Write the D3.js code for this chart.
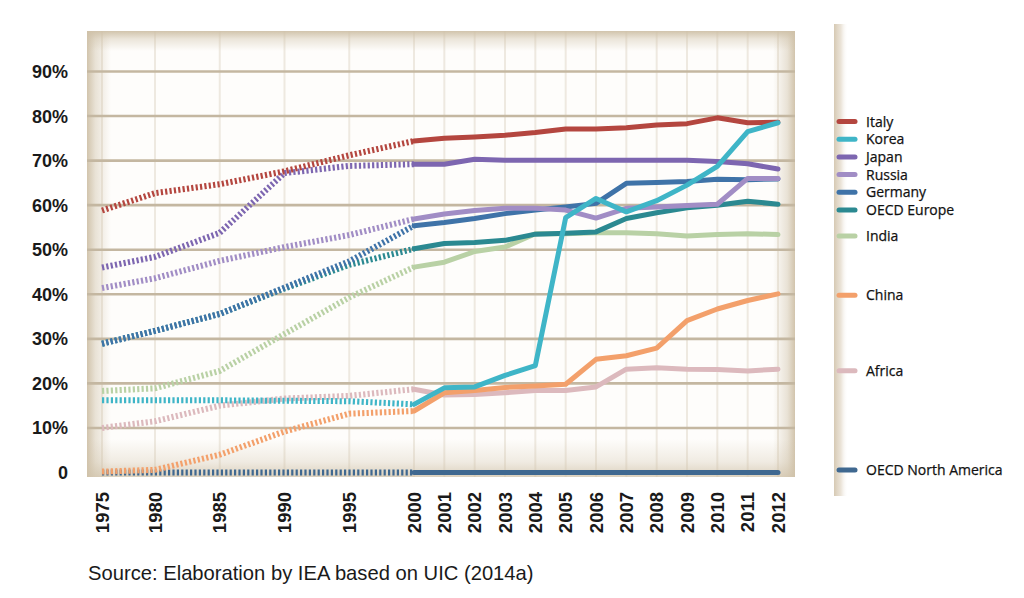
<!DOCTYPE html>
<html><head><meta charset="utf-8">
<script src="https://cdn.jsdelivr.net/npm/d3@7"></script>
<style>
html,body{margin:0;padding:0;background:#fff;}
svg{display:block;}
</style></head>
<body>
<svg id="chart" width="1024" height="598"></svg>
<script>
// ---------- data ----------
const years = [1975,1980,1985,1990,1995,2000,2001,2002,2003,2004,2005,2006,2007,2008,2009,2010,2011,2012];
const yTicks = [0,10,20,30,40,50,60,70,80,90];
const yTickLabels = ["0","10%","20%","30%","40%","50%","60%","70%","80%","90%"];
const seriesNames = ["Italy","Korea","Japan","Russia","Germany","OECD Europe","India","China","Africa","OECD North America"];
const seriesColors = ["#b4463f","#3fb5c7","#7d66b0","#a18dc5","#3f73a8","#2b8991","#b9d1a5","#f3a06b","#dcb9bd","#3f6890"];
const italy   = [58.8,62.7,64.7,67.6,71.2,74.4,75.0,75.3,75.7,76.3,77.1,77.1,77.4,78.0,78.3,79.6,78.5,78.6];
const korea   = [16.2,16.2,16.2,16.1,16.0,15.3,19.0,19.2,21.8,24.0,57.2,61.5,58.5,61.0,64.5,68.7,76.5,78.5];
const japan   = [46.0,48.4,53.8,67.2,68.8,69.2,69.2,70.3,70.1,70.1,70.1,70.1,70.1,70.1,70.1,69.8,69.3,68.1];
const russia  = [41.4,43.6,47.5,50.6,53.3,56.9,58.0,58.8,59.3,59.3,58.9,57.1,59.3,59.6,59.9,60.2,66.0,66.0];
const germany = [28.9,31.8,35.6,41.5,47.4,55.4,56.1,57.0,58.1,58.9,59.6,60.4,64.9,65.1,65.3,65.8,65.7,65.9];
const oecdEurope = [28.9,31.8,35.6,41.3,46.6,50.2,51.4,51.6,52.1,53.5,53.7,54.0,57.0,58.3,59.4,60.0,60.9,60.2];
const india   = [18.3,18.9,22.8,31.1,39.3,46.1,47.2,49.6,50.6,53.6,53.6,53.8,53.8,53.6,53.1,53.4,53.6,53.4];
const china   = [0.2,0.6,4.0,9.2,13.2,13.8,17.9,18.4,19.1,19.4,19.8,25.4,26.2,27.9,34.1,36.7,38.6,40.1];
const africa  = [10.0,11.5,15.0,16.6,17.2,18.7,17.4,17.5,17.9,18.4,18.4,19.2,23.2,23.5,23.2,23.1,22.8,23.2];
const oecdNorthAmerica = [0,0,0,0,0,0,0,0,0,0,0,0,0,0,0,0,0,0];
const seriesValues = [italy,korea,japan,russia,germany,oecdEurope,india,china,africa,oecdNorthAmerica];
const sourceText = "Source: Elaboration by IEA based on UIC (2014a)";

// ---------- layout ----------
const svg = d3.select("#chart");
const panel = {x:87, y:31, w:708, h:446};
const x = d3.scaleLinear().domain([1975,1980,2000,2012]).range([102,155,414,778]);
const y = d3.scaleLinear().domain([0,90]).range([472.5,71.5]);

const defs = svg.append("defs");
function grad(id, x1,y1,x2,y2, stops){
  const g = defs.append("linearGradient").attr("id",id)
    .attr("x1",x1).attr("y1",y1).attr("x2",x2).attr("y2",y2);
  stops.forEach(s=>g.append("stop").attr("offset",s[0]).attr("stop-color",s[1]).attr("stop-opacity",s[2]));
}
const beige = "#cfc1a8";
grad("gL","0","0","1","0",[[0,beige,0.95],[0.35,beige,0.45],[1,beige,0]]);
grad("gR","0","0","1","0",[[0,beige,0],[0.65,beige,0.45],[1,beige,0.95]]);
grad("gT","0","0","0","1",[[0,beige,0.95],[0.4,beige,0.4],[1,beige,0]]);
grad("gB","0","0","0","1",[[0,beige,0],[0.6,beige,0.3],[1,beige,0.75]]);
grad("gLeg","0","0","1","0",[[0,"#d6c9b3",1],[0.5,"#e6ddcf",0.8],[1,"#ffffff",0]]);

// panel
svg.append("rect").attr("x",panel.x).attr("y",panel.y).attr("width",panel.w).attr("height",panel.h)
  .attr("rx",4).attr("fill","#fefdfb");
// vertical grid
svg.append("g").selectAll("line").data(years).join("line")
  .attr("x1",d=>x(d)).attr("x2",d=>x(d)).attr("y1",panel.y).attr("y2",panel.y+panel.h)
  .attr("stroke","#eee9e0").attr("stroke-width",2);
// edge shading
svg.append("rect").attr("x",panel.x).attr("y",panel.y).attr("width",24).attr("height",panel.h).attr("fill","url(#gL)");
svg.append("rect").attr("x",panel.x+panel.w-22).attr("y",panel.y).attr("width",22).attr("height",panel.h).attr("fill","url(#gR)");
svg.append("rect").attr("x",panel.x).attr("y",panel.y).attr("width",panel.w).attr("height",20).attr("fill","url(#gT)");
svg.append("rect").attr("x",panel.x).attr("y",panel.y+panel.h-38).attr("width",panel.w).attr("height",38).attr("fill","url(#gB)");
// horizontal grid
svg.append("g").selectAll("line").data(yTicks.filter(d=>d>0)).join("line")
  .attr("x1",panel.x).attr("x2",panel.x+panel.w).attr("y1",d=>y(d)).attr("y2",d=>y(d))
  .attr("stroke","#c4b7a1").attr("stroke-width",2.6);

// y labels
svg.append("g").selectAll("text").data(yTicks).join("text")
  .attr("x",68).attr("y",d=>y(d)).attr("dy","0.36em").attr("text-anchor","end")
  .attr("font-family","Liberation Sans, Arial, sans-serif").attr("font-weight","bold")
  .attr("font-size",18).attr("fill","#1a1a1a")
  .text((d,i)=>yTickLabels[i]);

// x labels
svg.append("g").selectAll("text").data(years).join("text")
  .attr("transform",d=>`translate(${x(d)},492) rotate(-90)`)
  .attr("dy","0.36em").attr("text-anchor","end")
  .attr("font-family","Liberation Sans, Arial, sans-serif").attr("font-weight","bold")
  .attr("font-size",18.5).attr("fill","#1a1a1a")
  .text(d=>String(d));

// lines
const line = d3.line().x(d=>x(d[0])).y(d=>y(d[1])).curve(d3.curveLinear);
const drawOrder = [9,8,7,6,5,4,3,2,0,1];
const gLines = svg.append("g");
drawOrder.forEach(i=>{
  const pts = years.map((yr,k)=>[yr, seriesValues[i][k]]);
  const early = pts.filter(p=>p[0]<=2000);
  const late = pts.filter(p=>p[0]>=2000);
  gLines.append("path").attr("d",line(early)).attr("fill","none")
    .attr("stroke",seriesColors[i]).attr("stroke-width",6)
    .attr("stroke-dasharray","2.2,2.2").attr("stroke-linecap","butt");
  gLines.append("path").attr("d",line(late)).attr("fill","none")
    .attr("stroke",seriesColors[i]).attr("stroke-width",5)
    .attr("stroke-linejoin","round").attr("stroke-linecap","round");
});

// legend
svg.append("rect").attr("x",834).attr("y",24).attr("width",14).attr("height",472).attr("fill","url(#gLeg)");
const legendY = seriesNames.map((n,i)=> i<6 ? 121.5 + i*17.7 : Math.min(470, y(seriesValues[i][seriesValues[i].length-1]) + 1.5));
const gLeg = svg.append("g");
seriesNames.forEach((n,i)=>{
  gLeg.append("line").attr("x1",839).attr("x2",855).attr("y1",legendY[i]).attr("y2",legendY[i])
    .attr("stroke",seriesColors[i]).attr("stroke-width",5).attr("stroke-linecap","round");
  gLeg.append("text").attr("x",866).attr("y",legendY[i]).attr("dy","0.36em")
    .attr("font-family","Open Sans, sans-serif").attr("font-size",14).attr("fill","#111")
    .attr("stroke","#111").attr("stroke-width",0.25)
    .text(n);
});

// source
svg.append("text").attr("x",88).attr("y",580)
  .attr("font-family","Liberation Sans, Arial, sans-serif").attr("font-size",20.2).attr("fill","#1a1a1a")
  .text(sourceText);
</script>
</body></html>
